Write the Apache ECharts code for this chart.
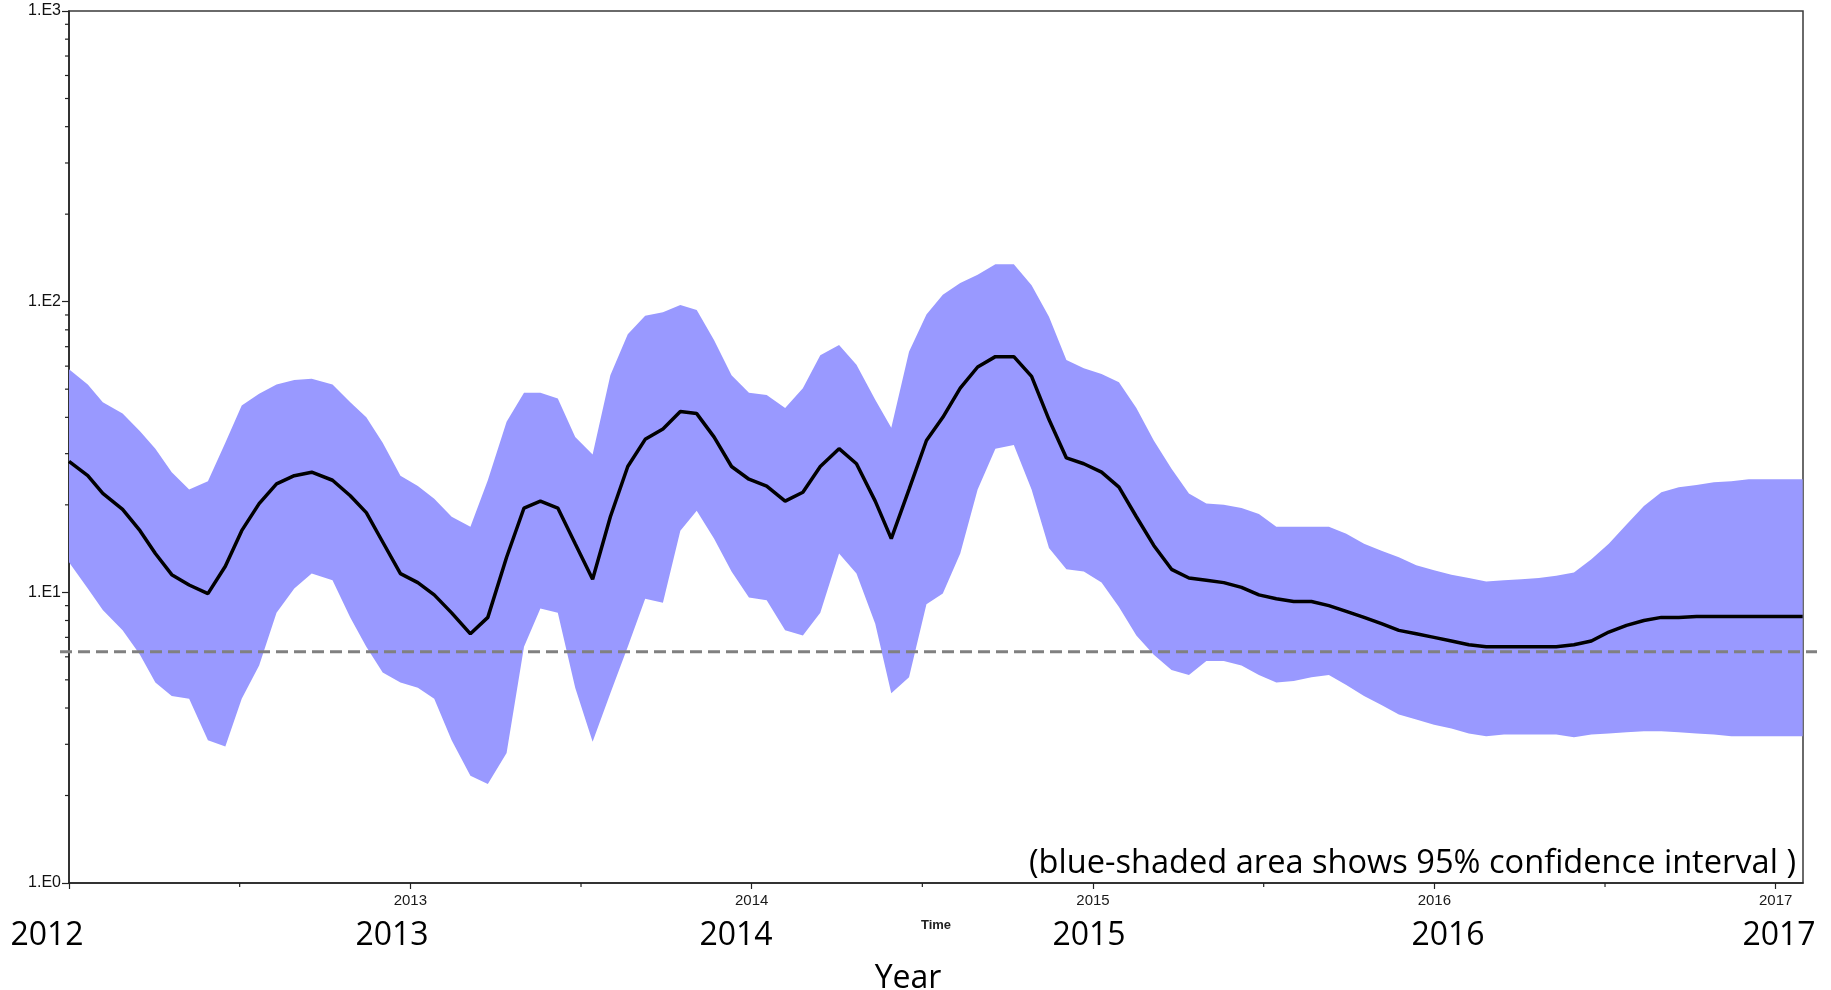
<!DOCTYPE html>
<html>
<head>
<meta charset="utf-8">
<script src="https://cdn.jsdelivr.net/npm/echarts@6/dist/echarts.min.js"></script>
<style>
  html, body { margin: 0; padding: 0; background: #ffffff; }
  #chart { width: 1831px; height: 990px; }
</style>
</head>
<body>
<div id="chart"></div>
<script>
// ---------------- data ----------------
const years = [
  2012.000, 2012.055, 2012.099, 2012.157, 2012.208, 2012.253, 2012.301, 2012.352, 2012.407, 2012.458,
  2012.506, 2012.557, 2012.608, 2012.660, 2012.711, 2012.772, 2012.824, 2012.871, 2012.919, 2012.971,
  2013.022, 2013.070, 2013.121, 2013.176, 2013.227, 2013.282, 2013.333, 2013.381, 2013.432, 2013.483,
  2013.534, 2013.586, 2013.637, 2013.688, 2013.740, 2013.791, 2013.839, 2013.890, 2013.941, 2013.992,
  2014.044, 2014.098, 2014.150, 2014.201, 2014.256, 2014.307, 2014.362, 2014.409, 2014.461, 2014.512,
  2014.560, 2014.611, 2014.662, 2014.714, 2014.768, 2014.820, 2014.871, 2014.922, 2014.973, 2015.025,
  2015.076, 2015.127, 2015.178, 2015.230, 2015.281, 2015.332, 2015.383, 2015.435, 2015.486, 2015.537,
  2015.588, 2015.640, 2015.691, 2015.742, 2015.794, 2015.845, 2015.896, 2015.947, 2015.999, 2016.050,
  2016.101, 2016.152, 2016.204, 2016.255, 2016.306, 2016.357, 2016.409, 2016.460, 2016.511, 2016.563,
  2016.614, 2016.665, 2016.716, 2016.768, 2016.819, 2016.870, 2016.921, 2016.973, 2017.024, 2017.079
];
const meanVals = [
  28.2, 25.2, 21.9, 19.3, 16.3, 13.6, 11.5, 10.6, 9.9, 12.3,
  16.3, 20.2, 23.6, 25.2, 25.9, 24.3, 21.5, 18.8, 14.9, 11.6,
  10.8, 9.8, 8.5, 7.2, 8.2, 13.2, 19.5, 20.6, 19.5, 14.7,
  11.1, 18.2, 27.1, 33.6, 36.5, 41.9, 41.2, 34.2, 27.1, 24.5,
  23.2, 20.6, 22.1, 27.1, 31.2, 27.7, 20.6, 15.3, 22.6, 33.3,
  40.0, 50.4, 59.6, 64.7, 64.7, 55.3, 39.3, 29.0, 27.7, 25.9,
  23.0, 18.2, 14.5, 12.0, 11.2, 11.0, 10.8, 10.4, 9.8, 9.5,
  9.3, 9.3, 9.0, 8.6, 8.2, 7.8, 7.4, 7.2, 7.0, 6.8,
  6.6, 6.5, 6.5, 6.5, 6.5, 6.5, 6.6, 6.8, 7.3, 7.7,
  8.0, 8.2, 8.2, 8.25, 8.25, 8.25, 8.25, 8.25, 8.25, 8.25
];
const upperVals = [
  58.5, 51.9, 45.1, 41.2, 35.8, 31.2, 25.9, 22.6, 24.1, 32.7,
  43.9, 48.2, 51.9, 53.8, 54.3, 51.9, 45.1, 40.0, 32.7, 25.2,
  23.2, 21.0, 18.2, 16.8, 24.3, 38.6, 48.6, 48.6, 46.4, 34.2,
  29.8, 55.8, 77.2, 89.5, 92.0, 97.3, 93.7, 73.7, 55.8, 48.6,
  47.7, 43.1, 50.4, 65.4, 71.0, 60.7, 46.0, 36.8, 67.2, 90.3,
  105.7, 116.0, 123.7, 134.4, 134.4, 113.8, 88.7, 63.0, 59.0, 56.4,
  52.8, 43.1, 33.3, 26.6, 21.9, 20.2, 20.0, 19.5, 18.6, 16.8,
  16.8, 16.8, 16.8, 15.9, 14.7, 13.9, 13.2, 12.4, 11.9, 11.5,
  11.2, 10.9, 11.0, 11.1, 11.2, 11.4, 11.7, 13.0, 14.7, 17.1,
  19.8, 22.1, 23.0, 23.4, 23.9, 24.1, 24.5, 24.5, 24.5, 24.5
];
const lowerVals = [
  12.7, 10.3, 8.7, 7.4, 6.1, 4.9, 4.4, 4.3, 3.1, 2.95,
  4.3, 5.6, 8.5, 10.3, 11.6, 11.0, 8.2, 6.5, 5.3, 4.9,
  4.7, 4.3, 3.1, 2.34, 2.19, 2.8, 6.5, 8.8, 8.5, 4.7,
  3.06, 4.5, 6.5, 9.5, 9.2, 16.3, 19.1, 15.3, 11.8, 9.6,
  9.4, 7.4, 7.1, 8.5, 13.6, 11.6, 7.8, 4.5, 5.1, 9.1,
  9.9, 13.6, 22.6, 31.2, 32.1, 22.6, 14.2, 12.0, 11.8, 10.8,
  8.9, 7.1, 6.1, 5.4, 5.2, 5.8, 5.8, 5.6, 5.2, 4.9,
  4.95, 5.1, 5.2, 4.8, 4.4, 4.1, 3.8, 3.65, 3.5, 3.4,
  3.27, 3.2, 3.24, 3.24, 3.24, 3.24, 3.17, 3.24, 3.27, 3.3,
  3.33, 3.33, 3.3, 3.27, 3.24, 3.2, 3.2, 3.2, 3.2, 3.2
];
const thresholdValue = 6.25;
const yTickValues = [1, 10, 100, 1000];
const yTickLabels = ['1.E0', '1.E1', '1.E2', '1.E3'];
const yMinorTicks = [2, 3, 4, 5, 6, 7, 8, 9, 20, 30, 40, 50, 60, 70, 80, 90, 200, 300, 400, 500, 600, 700, 800, 900];
const xTickValues = [2012, 2013, 2014, 2015, 2016, 2017];
const xTickLabelValues = [2013, 2014, 2015, 2016, 2017];
const xMinorTicks = [2012.5, 2013.5, 2014.5, 2015.5, 2016.5];
const bigYearLabels = ['2012', '2013', '2014', '2015', '2016', '2017'];
const xAxisName = 'Time';
const outerXTitle = 'Year';
const captionText = '(blue-shaded area shows 95% confidence interval )';

// ---------------- chart ----------------
const X_MIN = 2012, X_MAX = 2017.08;
const chart = echarts.init(document.getElementById('chart'));

const meanData = years.map((t, i) => [t, meanVals[i]]);

const bigYearPositions = [47, 392, 736, 1089, 1448, 1779];

const option = {
  animation: false,
  backgroundColor: '#ffffff',
  grid: {
    left: 69, right: 28, top: 11, bottom: 107,
    show: true, borderColor: '#3a3a3a', borderWidth: 1.5, backgroundColor: 'transparent'
  },
  xAxis: {
    type: 'value', min: X_MIN, max: X_MAX, interval: 1,
    axisLine: { show: true, lineStyle: { color: '#222', width: 1.5 } },
    axisTick: { show: true, length: 6, customValues: xTickValues, lineStyle: { color: '#222', width: 1.2 } },
    splitLine: { show: false },
    axisLabel: {
      customValues: xTickLabelValues,
      margin: 10, fontFamily: 'Liberation Sans', fontSize: 15, color: '#1a1a1a',
      formatter: v => String(Math.round(v))
    },
    name: xAxisName, nameLocation: 'middle', nameGap: 36,
    nameTextStyle: { fontFamily: 'Liberation Sans', fontSize: 13, fontWeight: 'bold', color: '#222' }
  },
  yAxis: {
    type: 'log', logBase: 10, min: 1, max: 1000,
    axisLine: { show: true, lineStyle: { color: '#222', width: 1.5 } },
    axisTick: { show: true, length: 7, lineStyle: { color: '#222', width: 1.2 } },
    splitLine: { show: false },
    minorTick: { show: false },
    axisLabel: {
      margin: 8, fontFamily: 'Liberation Sans', fontSize: 16, color: '#111',
      formatter: v => {
        const i = yTickValues.findIndex(t => Math.abs(t - v) < 1e-6 * t);
        return i >= 0 ? yTickLabels[i] : '';
      }
    }
  },
  series: [
    {
      name: 'band', type: 'custom', z: 1, clip: true,
      data: [[years[0], meanVals[0]]],
      renderItem: (params, api) => {
        const pts = [];
        for (let i = 0; i < years.length; i++) pts.push(api.coord([years[i], upperVals[i]]));
        for (let i = years.length - 1; i >= 0; i--) pts.push(api.coord([years[i], lowerVals[i]]));
        return { type: 'polygon', shape: { points: pts }, style: { fill: '#9999ff', stroke: null } };
      }
    },
    {
      name: 'threshold', type: 'custom', z: 3, clip: false,
      data: [[X_MIN, thresholdValue]],
      renderItem: (params, api) => {
        const a = api.coord([X_MIN, thresholdValue]);
        const b = api.coord([X_MAX, thresholdValue]);
        return {
          type: 'line',
          shape: { x1: a[0] - 9, y1: a[1], x2: b[0] + 14, y2: b[1] },
          style: { stroke: '#808080', lineWidth: 3, lineDash: [12, 6] }
        };
      }
    },
    {
      name: 'mean', type: 'line', z: 4, data: meanData,
      symbol: 'none', smooth: false,
      lineStyle: { color: '#000000', width: 3.5 }
    },
    {
      name: 'yMinor', type: 'custom', z: 5, clip: false,
      data: yMinorTicks.map(v => [X_MIN, v]),
      renderItem: (params, api) => {
        const p = api.coord([api.value(0), api.value(1)]);
        return { type: 'line', shape: { x1: p[0] - 4, y1: p[1], x2: p[0], y2: p[1] }, style: { stroke: '#222', lineWidth: 1.2 } };
      }
    },
    {
      name: 'xMinor', type: 'custom', z: 5, clip: false,
      data: xMinorTicks.map(v => [v, 1]),
      renderItem: (params, api) => {
        const p = api.coord([api.value(0), api.value(1)]);
        return { type: 'line', shape: { x1: p[0], y1: p[1], x2: p[0], y2: p[1] + 4 }, style: { stroke: '#222', lineWidth: 1.2 } };
      }
    }
  ],
  graphic: [
    ...bigYearLabels.map((s, i) => ({
      type: 'text', x: bigYearPositions[i], y: 936, z: 10,
      style: { text: s, font: '32px "Open Sans"', fill: '#000', textAlign: 'center', textVerticalAlign: 'middle' }
    })),
    {
      type: 'text', x: 908, y: 979, z: 10,
      style: { text: outerXTitle, font: '32px "Open Sans"', fill: '#000', textAlign: 'center', textVerticalAlign: 'middle' }
    },
    {
      type: 'text', x: 1796, y: 864, z: 10,
      style: { text: captionText, font: '32.6px "Open Sans"', fill: '#000', textAlign: 'right', textVerticalAlign: 'middle' }
    }
  ]
};
chart.setOption(option);
</script>
</body>
</html>
